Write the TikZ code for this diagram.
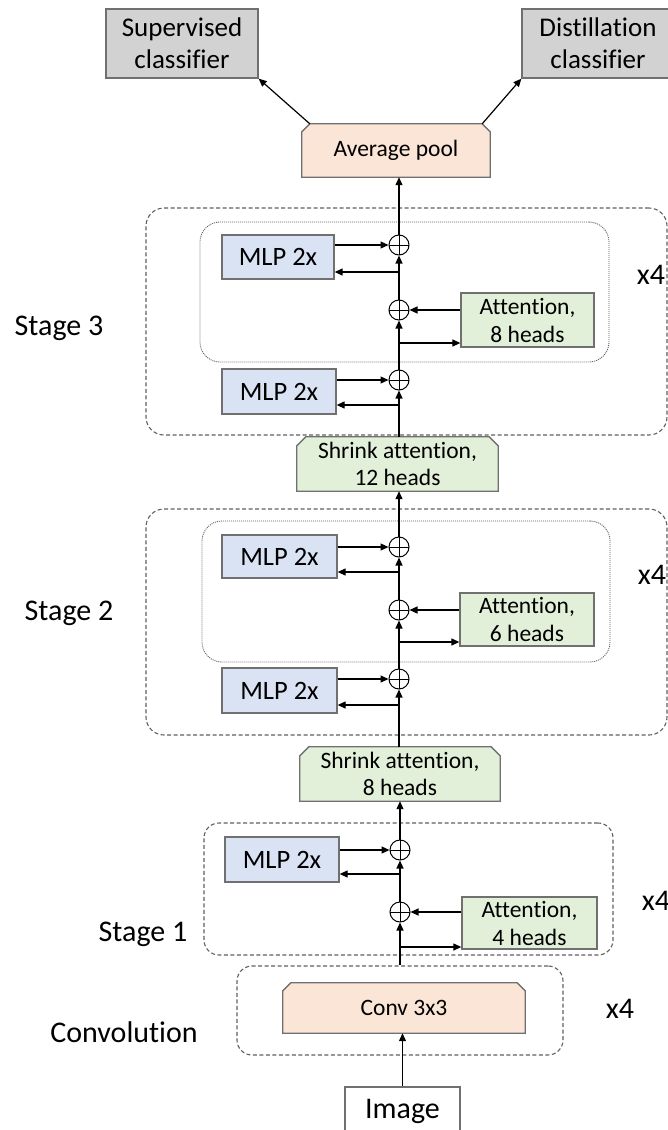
\documentclass[tikz,border=0pt]{standalone}
\usepackage{fontspec}
\setmainfont{Carlito}[Ligatures=NoCommon]
\usetikzlibrary{arrows.meta,backgrounds}

\definecolor{boxline}{HTML}{707070}
\definecolor{dashgray}{HTML}{606060}
\definecolor{clsgray}{HTML}{D2D2D2}
\definecolor{peach}{HTML}{FBE5D6}
\definecolor{attngreen}{HTML}{E2F0D9}
\definecolor{mlpblue}{HTML}{DAE3F3}

% outline of a box whose two upper corners are cut off
\newcommand\chamferoutline[3]{%
  \draw[draw=boxline, line width=1.3pt, fill=#2]
    ([yshift=-#3]#1.north west) -- ([xshift=#3]#1.north west)
    -- ([xshift=-#3]#1.north east) -- ([yshift=-#3]#1.north east)
    -- (#1.south east) -- (#1.south west) -- cycle;}

\begin{document}
\begin{tikzpicture}[x=1pt, y=-1pt,
  box/.style={draw=boxline, line width=1.3pt, inner sep=0pt, align=center, text=black},
  clsbox/.style={box, fill=clsgray, font=\fontsize{27}{32}\selectfont},
  mlpbox/.style={box, fill=mlpblue, font=\fontsize{26.5}{30}\selectfont},
  attnbox/.style={box, fill=attngreen, font=\fontsize{23.5}{28}\selectfont},
  chbox/.style={inner sep=0pt, align=center, text=black, font=\fontsize{23.5}{27}\selectfont},
  imgbox/.style={box, fill=white, font=\fontsize{30}{36}\selectfont},
  addsym/.style={circle, draw=black, line width=1pt, minimum size=20pt, inner sep=0pt,
    path picture={\draw[line width=1pt]
      (path picture bounding box.north) -- (path picture bounding box.south)
      (path picture bounding box.west) -- (path picture bounding box.east);}},
  arr/.style={-{Triangle[length=8pt,width=7pt]}, line width=1.2pt, black},
  outerbox/.style={draw=dashgray, line width=1.1pt, dash pattern=on 4pt off 2.5pt,
    rounded corners=18pt, inner sep=0pt},
  innerbox/.style={draw=dashgray, line width=0.9pt, dash pattern=on 1pt off 1pt,
    rounded corners=20pt, inner sep=0pt},
  lbl/.style={font=\fontsize{30}{36}\selectfont, anchor=base, inner sep=0pt}
]
\useasboundingbox (0,0) rectangle (668,1130);

% ---------- grouping frames ----------
\node[outerbox, minimum width=521pt, minimum height=227pt] (s3grp) at (406.5,321.5) {};
\node[innerbox, minimum width=409pt, minimum height=140pt] (s3rep) at (404.5,292) {};
\node[outerbox, minimum width=521pt, minimum height=226pt] (s2grp) at (406.5,622) {};
\node[innerbox, minimum width=408pt, minimum height=141pt] (s2rep) at (406,591.5) {};
\node[outerbox, rounded corners=15pt, minimum width=409pt, minimum height=132pt] (s1grp) at (408.5,889) {};
\node[outerbox, rounded corners=15pt, minimum width=326pt, minimum height=89pt] (convgrp) at (400,1010.5) {};

% ---------- head ----------
\node[clsbox, minimum width=152pt, minimum height=69pt] (sup) at (182,43.5) {Supervised\\classifier};
\node[clsbox, minimum width=152pt, minimum height=69pt] (dist) at (598,43.5) {Distillation\\classifier};
\node[chbox, minimum width=188pt, minimum height=53pt] (avg) at (396,150.5) {Average pool};

% ---------- stage 3 ----------
\node[mlpbox, minimum width=112pt, minimum height=44pt] (s3mlpA) at (278,257) {MLP 2x};
\node[addsym] (s3add1) at (399,245) {};
\node[attnbox, minimum width=133pt, minimum height=54pt] (s3attn) at (527.5,320) {Attention,\\8 heads};
\node[addsym] (s3add2) at (399,310) {};
\node[mlpbox, minimum width=114pt, minimum height=45pt] (s3mlpB) at (279,391.5) {MLP 2x};
\node[addsym] (s3add3) at (399,380) {};
\node[chbox, minimum width=201pt, minimum height=54pt] (shrink12) at (397.5,464) {Shrink attention,\\12 heads};

% ---------- stage 2 ----------
\node[mlpbox, minimum width=115pt, minimum height=43pt] (s2mlpA) at (279.5,556.5) {MLP 2x};
\node[addsym] (s2add1) at (399,547) {};
\node[attnbox, minimum width=134pt, minimum height=53pt] (s2attn) at (527,619.5) {Attention,\\6 heads};
\node[addsym] (s2add2) at (399,610) {};
\node[mlpbox, minimum width=115pt, minimum height=45pt] (s2mlpB) at (279.5,690.5) {MLP 2x};
\node[addsym] (s2add3) at (399,679) {};
\node[chbox, minimum width=200pt, minimum height=54pt] (shrink8) at (400,774) {Shrink attention,\\8 heads};

% ---------- stage 1 ----------
\node[mlpbox, minimum width=114pt, minimum height=45pt] (s1mlp) at (282,859.5) {MLP 2x};
\node[addsym] (s1add1) at (400,850) {};
\node[attnbox, minimum width=135pt, minimum height=52pt] (s1attn) at (529.5,923) {Attention,\\4 heads};
\node[addsym] (s1add2) at (400,912) {};

% ---------- stem ----------
\node[chbox, minimum width=242pt, minimum height=50pt] (conv) at (404,1008) {Conv 3x3};
\node[imgbox, minimum width=115pt, minimum height=48pt] (image) at (402.5,1111) {Image};

% fills and outlines of the cut-corner boxes
\begin{scope}[on background layer]
  \chamferoutline{avg}{peach}{8pt}
  \chamferoutline{shrink12}{attngreen}{9pt}
  \chamferoutline{shrink8}{attngreen}{9pt}
  \chamferoutline{conv}{peach}{8pt}
\end{scope}

% ---------- side labels ----------
\node[lbl] (lab3) at (59,335) {Stage 3};
\node[lbl] (lab2) at (69,620) {Stage 2};
\node[lbl] (lab1) at (143,941) {Stage 1};
\node[lbl] (labc) at (124,1042) {Convolution};
\node[lbl] (rep3) at (651,284) {x4};
\node[lbl] (rep2) at (652,584) {x4};
\node[lbl] (rep1) at (656,910) {x4};
\node[lbl] (repc) at (620,1018) {x4};

% ---------- junction points on the main path ----------
\coordinate (s3j1) at (399,272);
\coordinate (s3j2) at (399,343);
\coordinate (s3j3) at (399,405);
\coordinate (s2j1) at (399,572);
\coordinate (s2j2) at (399,642);
\coordinate (s2j3) at (399,705);
\coordinate (s1j1) at (400,874);
\coordinate (s1j2) at (400,947);

% ---------- connectors ----------
\draw[arr] (image.north) -- (image.north |- conv.south);
\draw[arr] (s1add2.south |- convgrp.north) -- (s1add2.south);
\draw[arr] (s1add2.north) -- (s1add1.south);
\draw[arr] (s1add1.north) -- (s1add1.north |- shrink8.south);
\draw[arr] (s1attn.west |- s1add2) -- (s1add2.east);
\draw[arr] (s1j2) -- (s1j2 -| s1attn.west);
\draw[arr] (s1mlp.east |- s1add1) -- (s1add1.west);
\draw[arr] (s1j1) -- (s1j1 -| s1mlp.east);

\draw[arr] (s2add3.south |- shrink8.north) -- (s2add3.south);
\draw[arr] (s2add3.north) -- (s2add2.south);
\draw[arr] (s2add2.north) -- (s2add1.south);
\draw[arr] (s2add1.north) -- (s2add1.north |- shrink12.south);
\draw[arr] (s2mlpB.east |- s2add3) -- (s2add3.west);
\draw[arr] (s2j3) -- (s2j3 -| s2mlpB.east);
\draw[arr] (s2attn.west |- s2add2) -- (s2add2.east);
\draw[arr] (s2j2) -- (s2j2 -| s2attn.west);
\draw[arr] (s2mlpA.east |- s2add1) -- (s2add1.west);
\draw[arr] (s2j1) -- (s2j1 -| s2mlpA.east);

\draw[arr] (s3add3.south |- shrink12.north) -- (s3add3.south);
\draw[arr] (s3add3.north) -- (s3add2.south);
\draw[arr] (s3add2.north) -- (s3add1.south);
\draw[arr] (s3add1.north) -- (s3add1.north |- avg.south);
\draw[arr] (s3mlpB.east |- s3add3) -- (s3add3.west);
\draw[arr] (s3j3) -- (s3j3 -| s3mlpB.east);
\draw[arr] (s3attn.west |- s3add2) -- (s3add2.east);
\draw[arr] (s3j2) -- (s3j2 -| s3attn.west);
\draw[arr] (s3mlpA.east |- s3add1) -- (s3add1.west);
\draw[arr] (s3j1) -- (s3j1 -| s3mlpA.east);

\draw[arr] ([xshift=8pt]avg.north west) -- (sup.south east);
\draw[arr] ([xshift=-8pt]avg.north east) -- (dist.south west);
\end{tikzpicture}
\end{document}
